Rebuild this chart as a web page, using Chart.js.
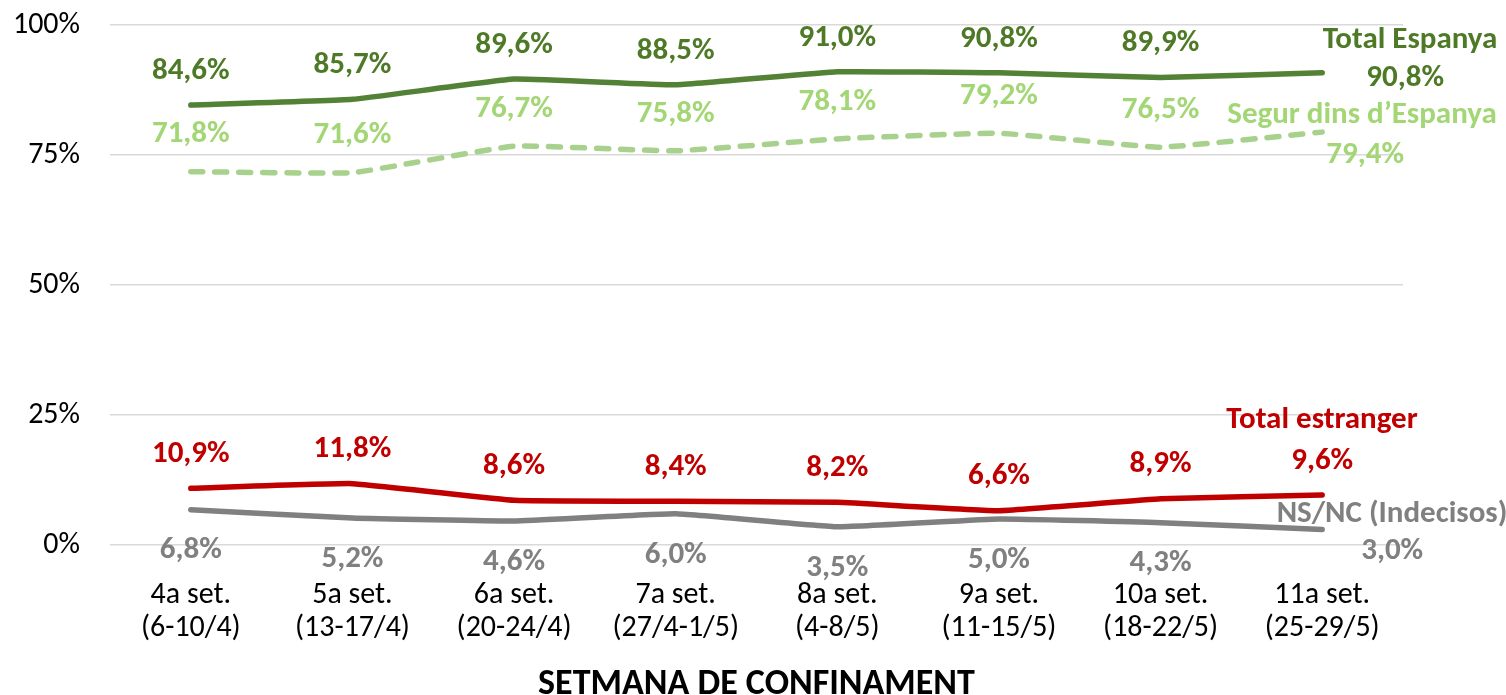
<!DOCTYPE html>
<html><head><meta charset="utf-8">
<script src="https://cdn.jsdelivr.net/npm/chart.js@4/dist/chart.umd.min.js"></script>
<style>html,body{margin:0;padding:0;background:#fff}#w{width:1506px;height:695px}</style>
</head><body><div id="w"><canvas id="c"></canvas></div>
<script>
const categories = [["4a set.","(6-10/4)"],["5a set.","(13-17/4)"],["6a set.","(20-24/4)"],["7a set.","(27/4-1/5)"],["8a set.","(4-8/5)"],["9a set.","(11-15/5)"],["10a set.","(18-22/5)"],["11a set.","(25-29/5)"]];
const totalEspanya = [84.6,85.7,89.6,88.5,91.0,90.8,89.9,90.8];
const segurEspanya = [71.8,71.6,76.7,75.8,78.1,79.2,76.5,79.4];
const totalEstranger = [10.9,11.8,8.6,8.4,8.2,6.6,8.9,9.6];
const nsnc = [6.8,5.2,4.6,6.0,3.5,5.0,4.3,3.0];
const seriesNames = ["Total Espanya","Segur dins d\u2019Espanya","Total estranger","NS/NC (Indecisos)"];
const yTicks = [0,25,50,75,100];

const FONT = "Calibri, Carlito, Lato, sans-serif";
const colors = ["#538135","#a9d18e","#c00000","#808080"];
const labelColors = ["#4e7a27","#a3d675","#c00000","#808080"];
const labelCfg = [
  {dy:-34, last:[83,5], name:[1410,40]},
  {dy:-37, last:[43,23], name:[1362,115]},
  {dy:-34, last:[0,-34], name:[1322,420]},
  {dy:41, last:[70,22], name:[1392,514]}
];
const fmt = v => v.toFixed(1).replace('.',',') + '%';

const labelPlugin = {
  id:'lbl',
  afterDatasetsDraw(chart){
    const ctx = chart.ctx;
    ctx.save();
    ctx.textAlign='center'; ctx.textBaseline='middle';
    ctx.font = "bold 31px " + FONT;
    chart.data.datasets.forEach((ds,i)=>{
      const meta = chart.getDatasetMeta(i);
      const cfg = labelCfg[i];
      ctx.fillStyle = labelColors[i];
      meta.data.forEach((pt,j)=>{
        let dx=0, dy=cfg.dy;
        if (j===meta.data.length-1){dx=cfg.last[0];dy=cfg.last[1];}
        ctx.fillText(fmt(ds.data[j]), pt.x+dx, pt.y+dy);
      });
      ctx.fillText(seriesNames[i], cfg.name[0], cfg.name[1]);
    });
    ctx.restore();
  }
};

const mk = (label,data,i,dash)=>({label,data,borderColor:colors[i],backgroundColor:colors[i],borderWidth:5.5,pointRadius:0,tension:0.1,borderCapStyle:'round',borderDash:dash||[],fill:false});

new Chart(document.getElementById('c'),{
  type:'line',
  data:{labels:categories,datasets:[
    mk(seriesNames[0],totalEspanya,0),
    mk(seriesNames[1],segurEspanya,1,[12,12]),
    mk(seriesNames[2],totalEstranger,2),
    mk(seriesNames[3],nsnc,3)
  ]},
  options:{
    responsive:true,maintainAspectRatio:false,animation:false,
    layout:{padding:{top:25,right:103,bottom:0,left:0}},
    plugins:{legend:{display:false},tooltip:{enabled:false}},
    scales:{
      x:{
        offset:true,
        grid:{display:false,offset:true},border:{display:false},
        ticks:{color:'#000',font:{family:FONT,size:30,lineHeight:1.1},padding:26,maxRotation:0,autoSkip:false},
        title:{display:true,text:'SETMANA DE CONFINAMENT',color:'#000',font:{family:FONT,size:36,weight:'bold'},padding:{top:22,bottom:-12}},
        afterFit(s){s.height=150;s.paddingTop=0;s.paddingLeft=0;s.paddingRight=0;s.paddingBottom=0;}
      },
      y:{
        min:0,max:100,
        afterBuildTicks(s){s.ticks=yTicks.map(v=>({value:v}));},
        grid:{color:'#d9d9d9',lineWidth:1.5,drawTicks:false},border:{display:false},
        ticks:{color:'#000',font:{family:FONT,size:30},padding:30,callback:v=>v+'%'},
        afterFit(s){s.width=110;s.paddingTop=0;s.paddingBottom=0;}
      }
    }
  },
  plugins:[labelPlugin]
});
</script></body></html>
